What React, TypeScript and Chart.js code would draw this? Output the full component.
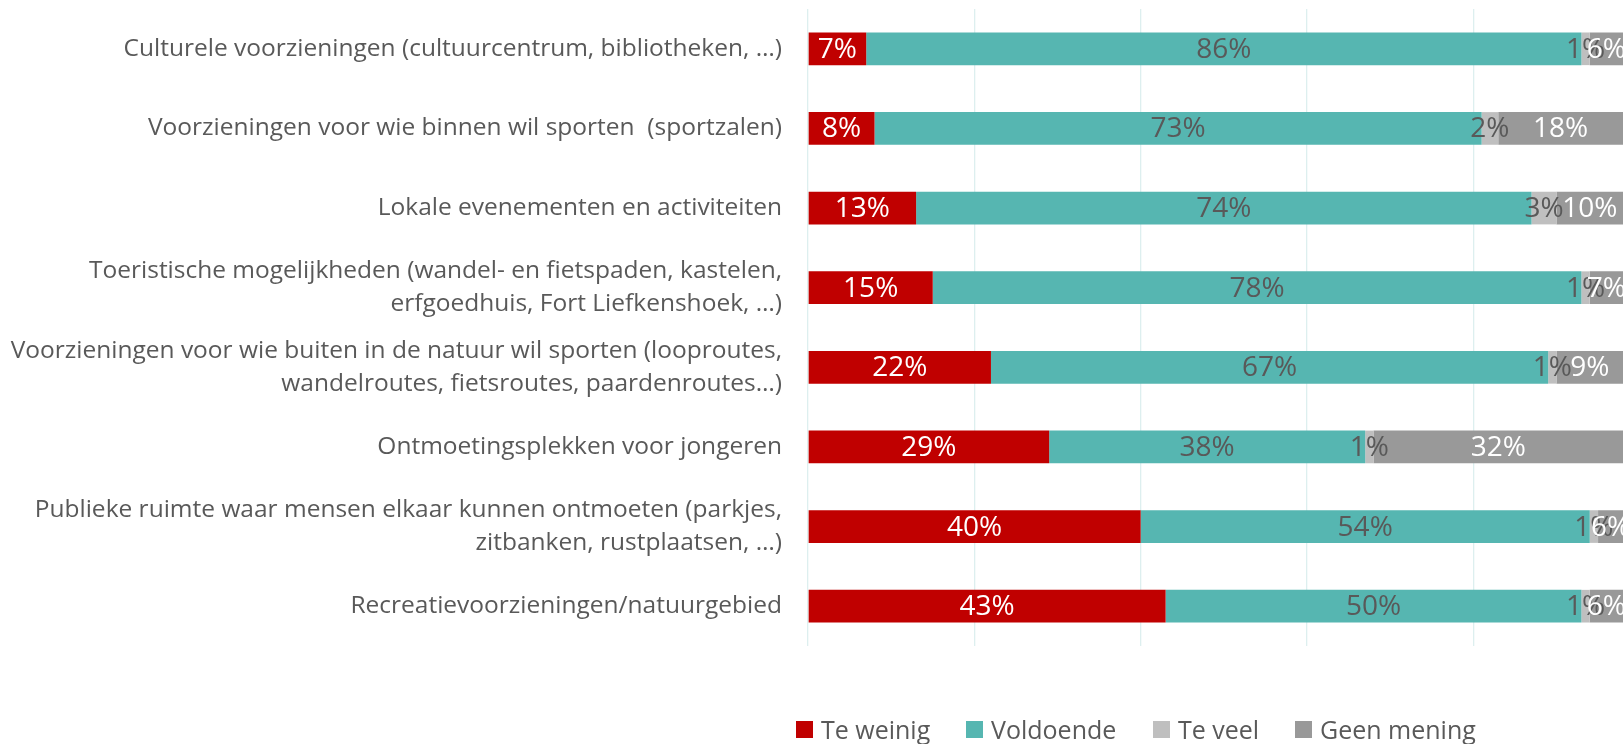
import React, { useEffect, useRef } from "react";
import { Chart, registerables } from "chart.js";

Chart.register(...registerables);

const categories: (string | string[])[] = [
  "Culturele voorzieningen (cultuurcentrum, bibliotheken, …)",
  "Voorzieningen voor wie binnen wil sporten  (sportzalen)",
  "Lokale evenementen en activiteiten",
  ["Toeristische mogelijkheden (wandel- en fietspaden, kastelen,", "erfgoedhuis, Fort Liefkenshoek, …)"],
  ["Voorzieningen voor wie buiten in de natuur wil sporten (looproutes,", "wandelroutes, fietsroutes, paardenroutes…)"],
  "Ontmoetingsplekken voor jongeren",
  ["Publieke ruimte waar mensen elkaar kunnen ontmoeten (parkjes,", "zitbanken, rustplaatsen, …)"],
  "Recreatievoorzieningen/natuurgebied",
];

const teWeinig = [7, 8, 13, 15, 22, 29, 40, 43];
const voldoende = [86, 73, 74, 78, 67, 38, 54, 50];
const teVeel = [1, 2, 3, 1, 1, 1, 1, 1];
const geenMening = [6, 18, 10, 7, 9, 32, 6, 6];

const seriesNames = ["Te weinig", "Voldoende", "Te veel", "Geen mening"];
const seriesColors = ["#C00000", "#56B6B1", "#BFBFBF", "#999999"];
const labelColors = ["#FFFFFF", "#595959", "#595959", "#FFFFFF"];
// the original chart is cut off at the right edge: only 0..98 % is visible
const axisMin = 0;
const axisMax = 98;
const axisStep = 20;

const FONT = "'Open Sans'";
const TEXT = "#595959";

const labelPlugin = {
  id: "barLabels",
  afterDatasetsDraw(chart: any) {
    const ctx = chart.ctx;
    const area = chart.chartArea;
    ctx.save();
    ctx.font = `28px ${FONT}`;
    ctx.textAlign = "center";
    ctx.textBaseline = "middle";
    chart.data.datasets.forEach((ds: any, i: number) => {
      const meta = chart.getDatasetMeta(i);
      meta.data.forEach((bar: any, j: number) => {
        const p = bar.getProps(["x", "base", "y"], true);
        const a = Math.max(Math.min(p.x, p.base), area.left);
        const b = Math.min(Math.max(p.x, p.base), area.right);
        ctx.fillStyle = labelColors[i];
        ctx.fillText(`${ds.data[j]}%`, (a + b) / 2, p.y + 1);
      });
    });
    ctx.restore();
  },
};

export default function App() {
  const ref = useRef<HTMLCanvasElement | null>(null);

  useEffect(() => {
    const values = [teWeinig, voldoende, teVeel, geenMening];
    const chart = new Chart(ref.current as HTMLCanvasElement, {
      type: "bar",
      data: {
        labels: categories,
        datasets: values.map((d, i) => ({
          label: seriesNames[i],
          data: d,
          backgroundColor: seriesColors[i],
          borderWidth: 0,
          categoryPercentage: 1,
          barPercentage: 0.41,
        })),
      },
      options: {
        indexAxis: "y",
        animation: false,
        responsive: true,
        maintainAspectRatio: false,
        layout: { padding: { top: 1, bottom: 62, left: 0, right: 0 } },
        plugins: {
          legend: { display: false },
          tooltip: { enabled: false },
        },
        scales: {
          x: {
            stacked: true,
            min: axisMin,
            max: axisMax,
            ticks: { display: false, stepSize: axisStep },
            grid: {
              color: (c: any) => (c.tick && c.tick.value % axisStep === 0 ? "#DDEFEF" : "rgba(0,0,0,0)"),
              lineWidth: 1.3,
              drawTicks: false,
            },
            border: { display: false },
            afterFit: (s: any) => {
              s.height = 0;
              s.paddingLeft = 0;
              s.paddingRight = 0;
            },
          },
          y: {
            stacked: true,
            grid: { display: false, drawTicks: false },
            border: { display: false },
            ticks: {
              color: TEXT,
              padding: 26,
              font: { family: FONT, size: 24.5, lineHeight: 1.35 },
            },
            afterFit: (s: any) => {
              s.width = 800;
              s.paddingTop = 0;
              s.paddingBottom = 0;
            },
          },
        },
      },
      plugins: [labelPlugin],
    });
    return () => chart.destroy();
  }, []);

  const legendX = [788, 958, 1145, 1287];

  return (
    <div style={{ position: "fixed", left: 8, top: 8, width: 1615, height: 736, overflow: "hidden" }}>
      <div style={{ position: "absolute", left: 0, top: 0, width: 1615, height: 700 }}>
        <canvas ref={ref} />
      </div>
      {seriesNames.map((n, i) => (
        <div
          key={n}
          style={{
            position: "absolute",
            left: legendX[i],
            top: 705,
            height: 32,
            display: "flex",
            alignItems: "center",
            fontFamily: FONT,
            fontSize: 25,
            color: TEXT,
            whiteSpace: "nowrap",
          }}
        >
          <span style={{ display: "inline-block", width: 17, height: 17, background: seriesColors[i], marginRight: 8 }} />
          <span>{n}</span>
        </div>
      ))}
    </div>
  );
}
